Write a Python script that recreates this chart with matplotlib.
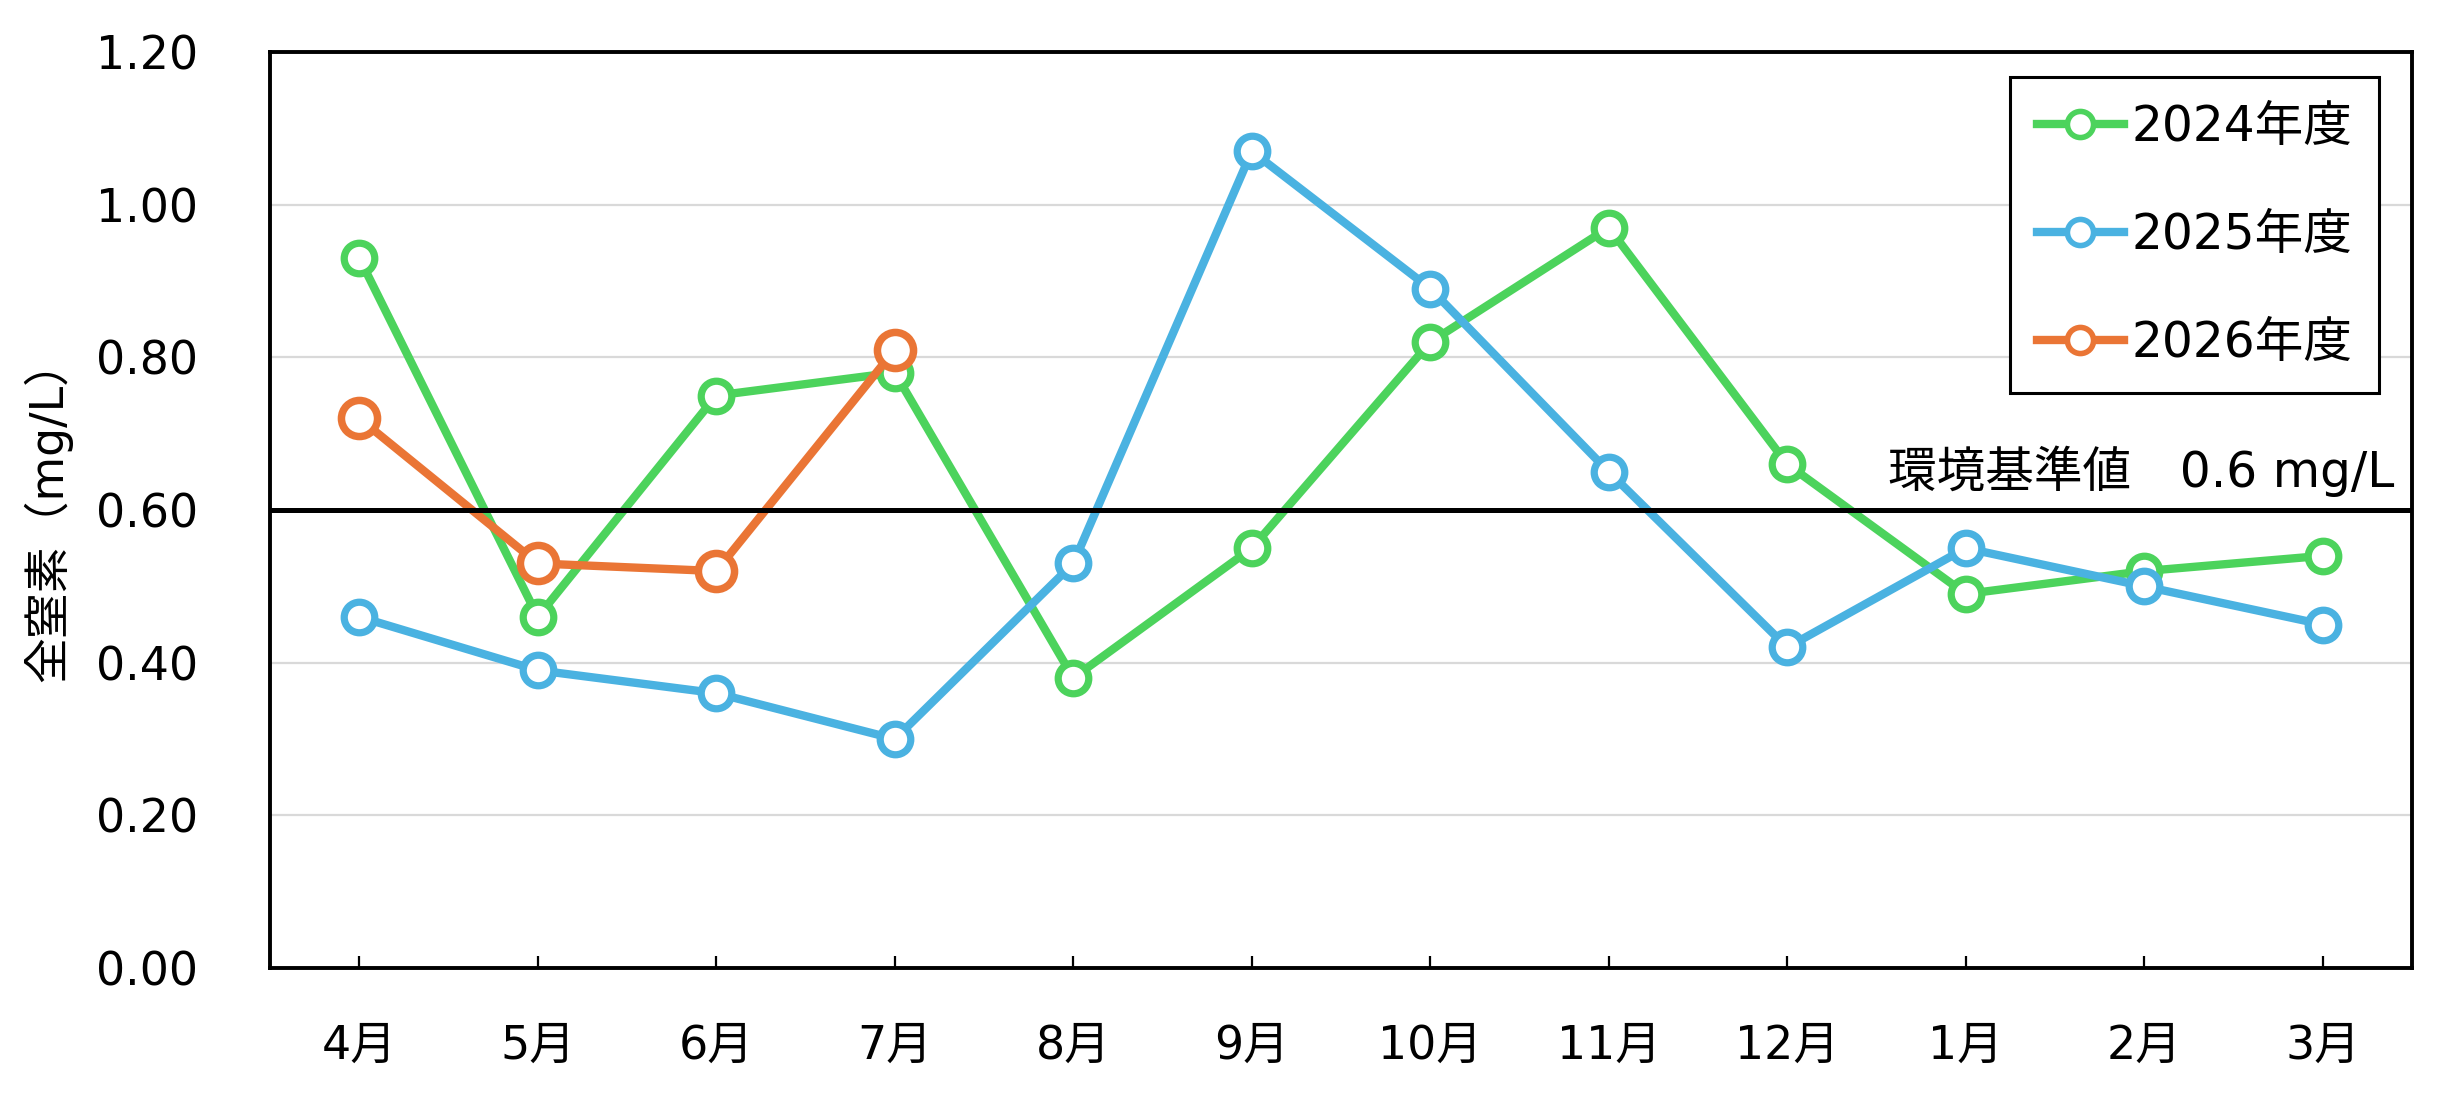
import matplotlib
matplotlib.use("Agg")
import matplotlib.pyplot as plt
import numpy as np

plt.rcParams['font.family'] = ['DejaVu Sans', 'Noto Sans CJK JP']

months = ['4月', '5月', '6月', '7月', '8月', '9月', '10月', '11月', '12月', '1月', '2月', '3月']
fy2024 = [0.93, 0.46, 0.75, 0.78, 0.38, 0.55, 0.82, 0.97, 0.66, 0.49, 0.52, 0.54]
fy2025 = [0.46, 0.39, 0.36, 0.30, 0.53, 1.07, 0.89, 0.65, 0.42, 0.55, 0.50, 0.45]
fy2026 = [0.72, 0.53, 0.52, 0.81]
labels = ['2024年度', '2025年度', '2026年度']
standard = 0.6

green = '#4cd35c'
blue = '#4ab2e1'
orange = '#ea7535'

fig = plt.figure(figsize=(12.31, 5.56), dpi=200)
ax = fig.add_axes([0.1097, 0.1295, 0.8700, 0.8237])

x = np.arange(len(months))
ax.plot(x, fy2024, color=green, lw=3.0, marker='o', ms=11.0, mew=2.6,
        mfc='white', mec=green, label=labels[0])
ax.plot(x, fy2025, color=blue, lw=3.0, marker='o', ms=11.0, mew=2.6,
        mfc='white', mec=blue, label=labels[1])
ax.plot(x[:len(fy2026)], fy2026, color=orange, lw=3.0, marker='o', ms=13.0, mew=2.7,
        mfc='white', mec=orange, label=labels[2])

# 環境基準値
ax.axhline(standard, color='black', lw=1.8, zorder=5)
ax.text(11.40, 0.63, '環境基準値　0.6 mg/L', ha='right', va='baseline', fontsize=17.5)

ax.set_xlim(-0.5, 11.5)
ax.set_ylim(0, 1.2)
ax.set_yticks(np.arange(0, 1.21, 0.2))
ax.set_yticklabels(['%.2f' % v for v in np.arange(0, 1.21, 0.2)])
ax.set_xticks(x)
ax.set_xticklabels(months)
ax.tick_params(axis='y', length=0, pad=26, labelsize=16.5)
ax.tick_params(axis='x', direction='in', length=4.3, width=0.8, pad=20, labelsize=16.5)
ax.grid(axis='y', color='#d9d9d9', lw=0.8)
ax.set_axisbelow(True)
for s in ax.spines.values():
    s.set_linewidth(1.4)
    s.set_color('black')

ax.set_ylabel('全窒素（mg/L）', fontsize=16.5)
ax.yaxis.set_label_coords(-0.0924, 0.5)

leg = ax.legend(loc='upper right', bbox_to_anchor=(0.9846, 0.9727), borderaxespad=0,
                fontsize=17.5, handlelength=1.8, handletextpad=0.16, labelspacing=1.23,
                borderpad=0.54, fancybox=False, edgecolor='black', framealpha=1)
leg.get_frame().set_linewidth(1.1)
for h in leg.legend_handles:
    h.set_markersize(9.4)
    h.set_markeredgewidth(2.0)

fig.savefig('out.png', dpi=200)
